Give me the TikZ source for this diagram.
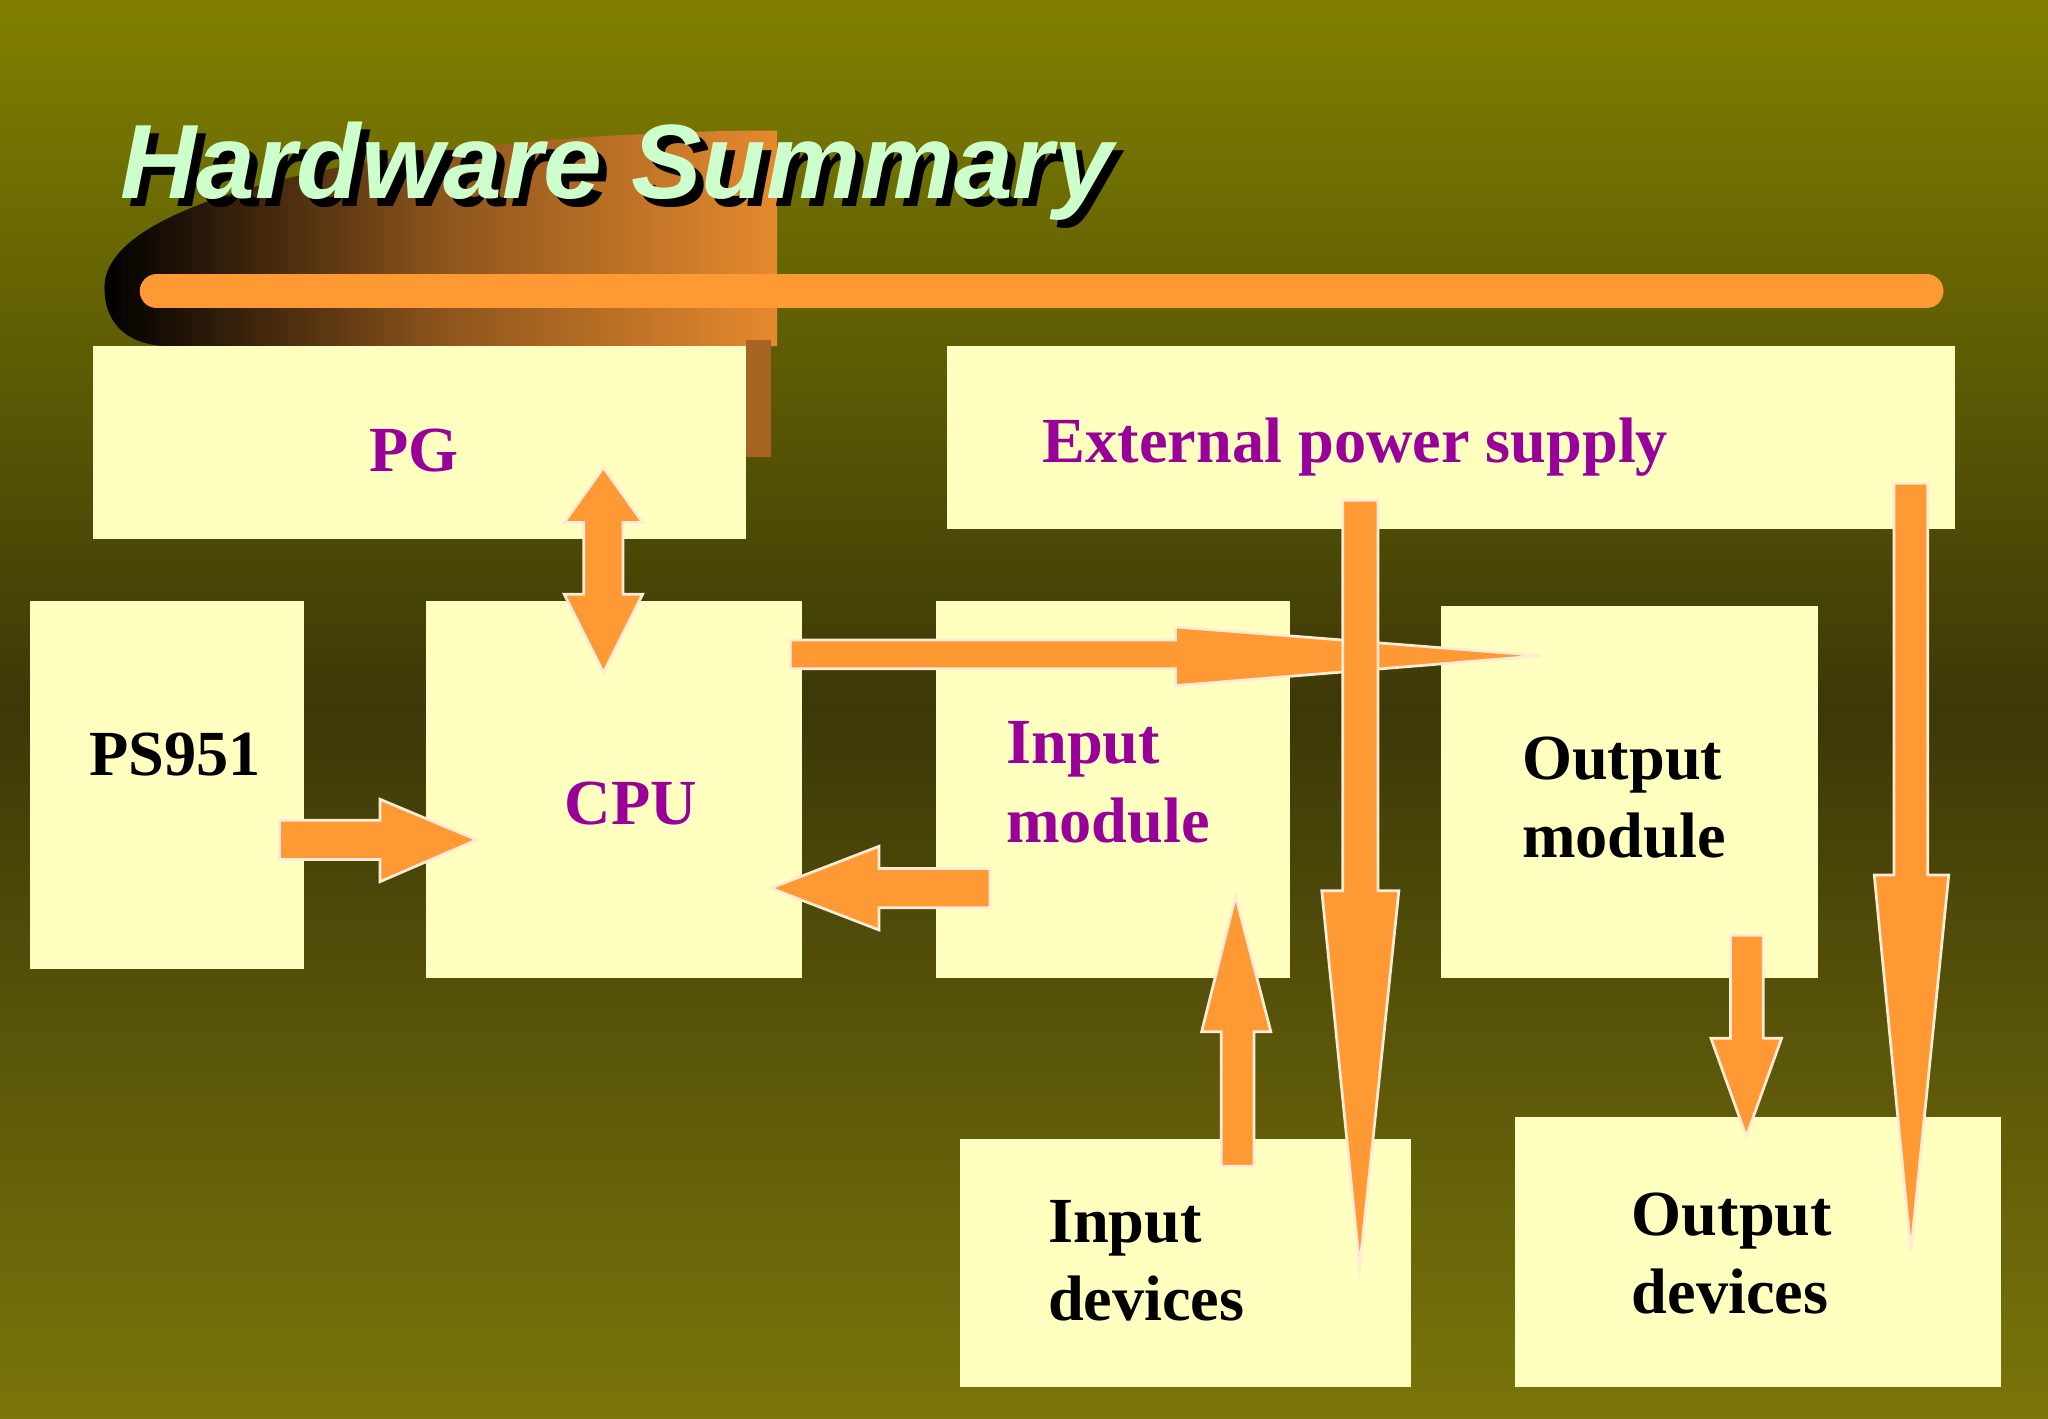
\documentclass[tikz,border=0pt]{standalone}
\usepackage{fontspec}
\setmainfont{Liberation Serif}
\newfontfamily\titlefont{Liberation Sans}
\begin{document}
\begin{tikzpicture}[x=0.01cm,y=-0.01cm,
  box/.style={fill=boxc,draw=none},
  lbl/.style={font=\fontsize{14}{16}\selectfont\bfseries,align=left,anchor=west},
  two/.style={font=\fontsize{14}{17}\selectfont\bfseries},
  arr/.style={fill=arrc,draw=white!80!arrc,line width=0.6pt}]
\definecolor{boxc}{RGB}{255,255,192}
\definecolor{arrc}{RGB}{255,153,51}
\definecolor{purp}{RGB}{153,0,153}
\definecolor{bgtop}{RGB}{128,128,0}
\definecolor{bgmid}{RGB}{60,56,8}
\definecolor{bgbot}{RGB}{122,118,10}
\definecolor{ttl}{RGB}{204,255,204}
\useasboundingbox (0,0) rectangle (1568,1086);
\shade[top color=bgtop,bottom color=bgmid] (0,0) rectangle (1568,543);
\shade[top color=bgmid,bottom color=bgbot] (0,542) rectangle (1568,1086);
% swoosh
\shade[left color=black,right color=arrc!90!black,middle color=arrc!55!black]
 (570,100) .. controls (300,105) and (80,150) .. (80,220) .. controls (80,250) and (100,265) .. (130,265) -- (595,265) -- (595,100) -- cycle;
\fill[arrc!65!black] (571,260) rectangle (590,350);
\node[font=\titlefont\fontsize{23}{26}\selectfont\bfseries\itshape,text=black,anchor=west] (tshadow) at (86,137) {Hardware Summary};
\node[font=\titlefont\fontsize{23}{26}\selectfont\bfseries\itshape,text=ttl,anchor=west] (title) at (80,131) {Hardware Summary};
\draw[arrc,line width=0.26cm,line cap=round] (120,223) -- (1475,223);
% boxes
\fill[box] (71,265) rectangle (571,413);
\fill[box] (725,265) rectangle (1497,405);
\fill[box] (23,460) rectangle (233,742);
\fill[box] (326,460) rectangle (614,749);
\fill[box] (717,460) rectangle (988,749);
\fill[box] (1103,464) rectangle (1392,749);
\fill[box] (735,872) rectangle (1080,1062);
\fill[box] (1160,855) rectangle (1532,1062);
% labels
\node[lbl,text=purp,anchor=center] (pg) at (317,345) {PG};
\node[lbl,text=purp] (eps) at (786,342) {External power supply};
\node[lbl,text=black] (ps) at (56,578) {PS951};
\node[lbl,text=purp] (cpu) at (420,615) {CPU};
\node[lbl,two,text=purp] (im) at (758,599) {Input\\module};
\node[lbl,two,text=black] (om) at (1153,611) {Output\\module};
\node[lbl,two,text=black] (id) at (790,965) {Input\\devices};
\node[lbl,two,text=black] (od) at (1237,960) {Output\\devices};
% arrows
\draw[arr] (462,358) -- (492,400) -- (477,400) -- (477,455) -- (492,455) -- (462,515) -- (432,455) -- (447,455) -- (447,400) -- (432,400) -- cycle;
\draw[arr] (605,490) -- (900,490) -- (900,480) -- (1180,502) -- (900,525) -- (900,512) -- (605,512) -- cycle;
\draw[arr] (214,628) -- (291,628) -- (291,612) -- (365,643) -- (291,675) -- (291,658) -- (214,658) -- cycle;
\draw[arr] (758,665) -- (673,665) -- (673,648) -- (590,680) -- (673,712) -- (673,695) -- (758,695) -- cycle;
\draw[arr] (935,893) -- (935,790) -- (920,790) -- (946,686) -- (973,790) -- (960,790) -- (960,893) -- cycle;
\draw[arr] (1028,383) -- (1028,682) -- (1012,682) -- (1041,970) -- (1071,682) -- (1055,682) -- (1055,383) -- cycle;
\draw[arr] (1450,370) -- (1450,670) -- (1435,670) -- (1463,958) -- (1492,670) -- (1476,670) -- (1476,370) -- cycle;
\draw[arr] (1325,716) -- (1325,795) -- (1310,795) -- (1337,870) -- (1364,795) -- (1350,795) -- (1350,716) -- cycle;
\end{tikzpicture}
\end{document}
